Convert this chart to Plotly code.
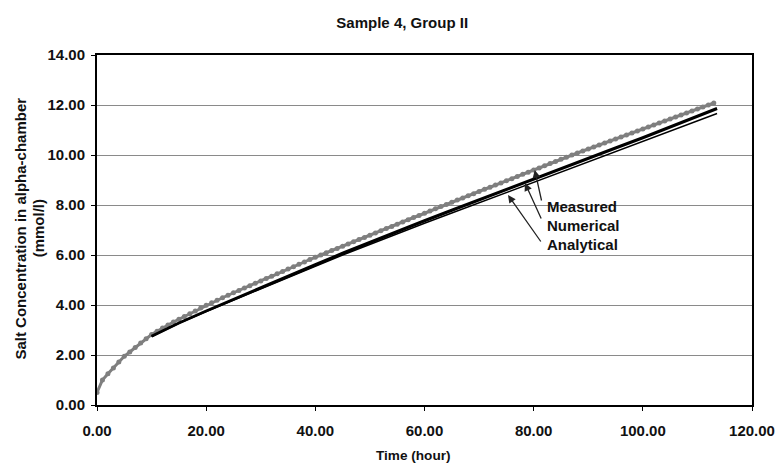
import plotly.graph_objects as go

# ---- data ----
measured_t = [0, 1, 2, 3, 4, 5, 6, 7, 8, 9, 10, 11, 12, 13, 14, 15, 16, 17, 18, 19,
              20, 21, 22, 23, 24, 25, 26, 27, 28, 29, 30, 31, 32, 33, 34, 35, 36, 37, 38, 39,
              40, 41, 42, 43, 44, 45, 46, 47, 48, 49, 50, 51, 52, 53, 54, 55, 56, 57, 58, 59,
              60, 61, 62, 63, 64, 65, 66, 67, 68, 69, 70, 71, 72, 73, 74, 75, 76, 77, 78, 79,
              80, 81, 82, 83, 84, 85, 86, 87, 88, 89, 90, 91, 92, 93, 94, 95, 96, 97, 98, 99,
              100, 101, 102, 103, 104, 105, 106, 107, 108, 109, 110, 111, 112, 113]
measured_c = [0.50, 1.00, 1.25, 1.48, 1.72, 1.95, 2.12, 2.30, 2.48, 2.65,
              2.82, 2.95, 3.08, 3.20, 3.32, 3.43, 3.54, 3.65, 3.76, 3.88,
              3.99, 4.09, 4.19, 4.29, 4.39, 4.49, 4.58, 4.68, 4.77, 4.87,
              4.96, 5.06, 5.15, 5.25, 5.34, 5.44, 5.53, 5.63, 5.72, 5.82,
              5.91, 6.00, 6.09, 6.18, 6.26, 6.35, 6.44, 6.53, 6.62, 6.70,
              6.79, 6.88, 6.97, 7.06, 7.14, 7.23, 7.32, 7.41, 7.50, 7.58,
              7.67, 7.76, 7.85, 7.94, 8.02, 8.11, 8.20, 8.28, 8.37, 8.45,
              8.54, 8.63, 8.71, 8.80, 8.88, 8.97, 9.05, 9.14, 9.23, 9.31,
              9.40, 9.48, 9.57, 9.66, 9.74, 9.83, 9.91, 10.00, 10.08, 10.16,
              10.24, 10.32, 10.40, 10.48, 10.56, 10.64, 10.72, 10.80, 10.88, 10.96,
              11.04, 11.12, 11.20, 11.28, 11.36, 11.44, 11.52, 11.60, 11.68, 11.76,
              11.84, 11.92, 12.00, 12.08]

model_t = [10, 15, 20, 25, 30, 35, 40, 45, 50, 55, 60, 65, 70, 75, 80, 85,
           90, 95, 100, 105, 110, 113.6]
numerical_c = [2.75, 3.28, 3.76, 4.23, 4.69, 5.15, 5.61, 6.07, 6.51, 6.94, 7.37,
               7.79, 8.21, 8.63, 9.05, 9.46, 9.87, 10.28, 10.69, 11.12, 11.55, 11.86]
analytical_c = [2.74, 3.27, 3.74, 4.20, 4.65, 5.10, 5.55, 6.00, 6.43, 6.85, 7.27,
                7.68, 8.09, 8.50, 8.91, 9.32, 9.72, 10.12, 10.52, 10.94, 11.36, 11.66]

series_labels = ["Measured", "Numerical", "Analytical"]
# arrow heads (on curves) and tails (near the labels), data coordinates
arrow_head_t = [80.2, 78.4, 75.3]
arrow_head_c = [9.40, 8.88, 8.40]
arrow_tail_t = [81.5, 81.5, 81.5]
arrow_tail_c = [8.12, 7.40, 6.48]
label_t = [82.0, 82.0, 82.0]
label_c = [7.94, 7.18, 6.42]

x_ticks = [0, 20, 40, 60, 80, 100, 120]
y_ticks = [0, 2, 4, 6, 8, 10, 12, 14]
y_title_lines = ["Salt Concentration in alpha-chamber", "(mmol/l)"]

FONT = "Liberation Sans, Arial, sans-serif"
TXT = "#111111"

fig = go.Figure()
fig.add_trace(go.Scatter(
    x=measured_t, y=measured_c, mode="lines+markers", name="Measured",
    line=dict(color="#7f7f7f", width=3),
    marker=dict(color="#7f7f7f", size=5, symbol="circle"),
    showlegend=False))
fig.add_trace(go.Scatter(
    x=model_t, y=numerical_c, mode="lines", name="Numerical",
    line=dict(color="#000000", width=3), showlegend=False))
fig.add_trace(go.Scatter(
    x=model_t, y=analytical_c, mode="lines", name="Analytical",
    line=dict(color="#000000", width=1.4), showlegend=False))

annotations = []
for i, lab in enumerate(series_labels):
    annotations.append(dict(
        x=arrow_head_t[i], y=arrow_head_c[i], xref="x", yref="y",
        ax=arrow_tail_t[i], ay=arrow_tail_c[i], axref="x", ayref="y",
        text="", showarrow=True, arrowhead=2, arrowsize=1.2, arrowwidth=1.3,
        arrowcolor="#222222"))
    annotations.append(dict(
        x=label_t[i], y=label_c[i], xref="x", yref="y", text=lab,
        showarrow=False, xanchor="left", yanchor="middle",
        font=dict(family=FONT, size=15, color=TXT, weight="bold")))

# y-axis title, two rotated lines
y_title_x = [-0.116, -0.089]
for i, line in enumerate(y_title_lines):
    annotations.append(dict(
        x=y_title_x[i], y=0.504, xref="paper", yref="paper", text=line,
        textangle=-90, showarrow=False, xanchor="center", yanchor="middle",
        font=dict(family=FONT, size=15, color=TXT, weight="bold")))

annotations.append(dict(
    x=0.483, y=-0.143, xref="paper", yref="paper", text="Time (hour)",
    showarrow=False, xanchor="center", yanchor="middle",
    font=dict(family=FONT, size=13.6, color=TXT, weight="bold")))

fig.update_layout(
    width=778, height=468,
    margin=dict(l=97, r=26, t=55, b=63),
    paper_bgcolor="white", plot_bgcolor="white",
    showlegend=False,
    title=dict(text="Sample 4, Group II", x=0.517, xref="container",
               y=1 - 23 / 468, yref="container", xanchor="center", yanchor="middle",
               font=dict(family=FONT, size=15, color=TXT, weight="bold")),
    annotations=annotations,
    xaxis=dict(range=[0, 120], tickvals=x_ticks, tickformat=".2f", automargin=False,
               showgrid=False, zeroline=False, showline=True, linecolor="black",
               linewidth=2, mirror=True, ticks="outside", ticklen=4, tickwidth=1,
               tickcolor="black", ticklabelstandoff=7,
               tickfont=dict(family=FONT, size=15, color=TXT, weight="bold")),
    yaxis=dict(range=[0, 14], tickvals=y_ticks, tickformat=".2f", automargin=False,
               showgrid=True, gridcolor="#8a8a8a", gridwidth=1.2, zeroline=False,
               showline=True, linecolor="black", linewidth=2, mirror=True,
               ticks="outside", ticklen=4, tickwidth=1, tickcolor="black",
               ticklabelstandoff=3,
               tickfont=dict(family=FONT, size=15, color=TXT, weight="bold")),
)

fig.write_html("out.html")
